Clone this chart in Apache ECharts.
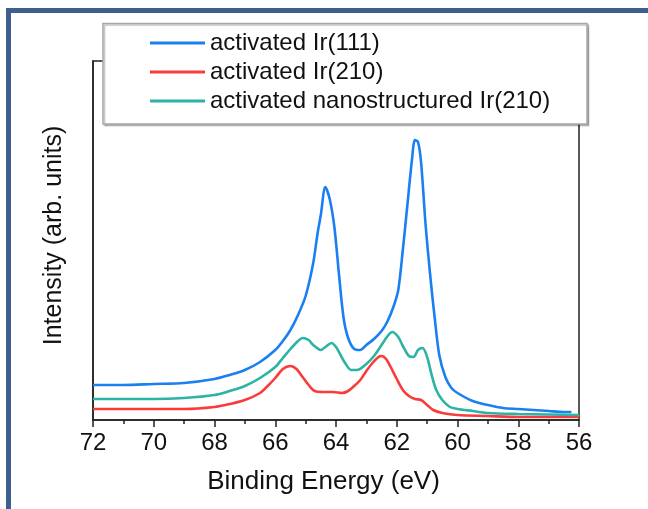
<!DOCTYPE html>
<html>
<head>
<meta charset="utf-8">
<script src="https://cdn.jsdelivr.net/npm/echarts@6/dist/echarts.min.js"></script>
<style>html,body{margin:0;padding:0;background:#fff}#chart{width:648px;height:509px}</style>
</head>
<body>
<div id="chart"></div>
<script>
// Binding energy (eV) and intensity (arb. units)
const seriesNames = ['activated Ir(111)', 'activated Ir(210)', 'activated nanostructured Ir(210)'];
const xTicks = [72, 70, 68, 66, 64, 62, 60, 58, 56];

const ir111Energy = [72,71,70,69,68,67.5,67,66.5,66,65.75,65.5,65.25,65,64.75,64.6,64.5,64.35,64.2,64.05,63.9,63.75,63.6,63.4,63.2,63,62.75,62.5,62.3,62.1,61.95,61.8,61.65,61.5,61.4,61.3,61.2,61.05,60.9,60.75,60.6,60.4,60.2,60,59.5,59,58.5,58,57.5,57,56.5,56.25];
const ir111Values = [35,35,36,37,41,45,50,58,70,79,90,105,124,157,188,205,233,220,192,145,102,82,71,70,75,81,89,99,114,130,170,215,260,280,278,258,195,145,102,65,43,32,27,19,15,12,11,10,9,8,8];

const ir210Energy = [72,71,70,69,68,67.5,67,66.5,66.25,66,65.75,65.5,65.3,65.1,64.9,64.7,64.4,64.1,63.8,63.6,63.4,63.2,63,62.8,62.6,62.5,62.35,62.2,62,61.8,61.6,61.4,61.2,61,60.8,60.5,60,59,58,57,56];
const ir210Values = [11,11,11,11,13,16,20,27,34,42,51,54,51,43,35,29,28,28,27,29,34,40,49,57,63,64,61,53,41,30,24,21,20,15,10,7,5,4,3,3,3];

const nanoEnergy = [72,71,70,69,68,67.5,67,66.5,66,65.75,65.5,65.25,65.1,64.9,64.75,64.5,64.35,64.15,64,63.85,63.7,63.5,63.3,63,62.75,62.5,62.3,62.15,61.95,61.8,61.6,61.45,61.3,61.15,61,60.85,60.7,60.5,60.25,60,59.5,59,58,57,56];
const nanoValues = [21,21,21,22,25,29,34,42,53,62,71,79,82,80,75,70,73,77,73,65,57,50,50,56,64,75,84,88,83,74,64,63,70,72,63,45,30,20,13,11,9,7,6,5.5,5];

function pairs(xs, ys) { return xs.map((x, i) => [x, ys[i]]); }

const FONT = "'Liberation Sans', Arial, sans-serif";
const colors = ['#1a80f2', '#fa3b3b', '#2bb3a3'];

const chart = echarts.init(document.getElementById('chart'), null, {renderer: 'canvas'});
chart.setOption({
  animation: false,
  backgroundColor: '#ffffff',
  color: colors,
  grid: {
    left: 93, right: 69, top: 61, bottom: 89,
    show: true, borderColor: '#222', borderWidth: 1.5, backgroundColor: 'transparent'
  },
  graphic: [
    { type: 'rect', z: 100, silent: true,
      shape: {x: 8.5, y: 10.5, width: 700, height: 600},
      style: {fill: 'none', stroke: '#3c5f8c', lineWidth: 5} },
    { type: 'rect', z: 50, silent: true,
      shape: {x: 103, y: 23.5, width: 484, height: 100.5},
      style: {fill: '#fff', stroke: '#a6a6a6', lineWidth: 1.5,
              shadowColor: 'rgba(0,0,0,0.25)', shadowOffsetX: 1.5, shadowOffsetY: 1.5, shadowBlur: 1} }
  ],
  legend: {
    z: 60,
    orient: 'vertical',
    left: 150, top: 31,
    padding: 0,
    itemGap: 5,
    itemWidth: 55, itemHeight: 3,
    icon: 'rect',
    data: seriesNames,
    textStyle: {fontFamily: FONT, fontSize: 24, color: '#111', lineHeight: 24}
  },
  xAxis: {
    type: 'value', inverse: true,
    min: 56, max: 72, interval: 2,
    name: 'Binding Energy (eV)', nameLocation: 'middle', nameGap: 49,
    nameTextStyle: {fontFamily: FONT, fontSize: 26, color: '#111', padding: [0, 25, 0, 0]},
    axisLine: {show: true, lineStyle: {color: '#222', width: 1.5}},
    axisTick: {show: true, inside: false, length: 7, lineStyle: {color: '#222', width: 1.5}},
    minorTick: {show: true, splitNumber: 2, length: 4, lineStyle: {color: '#222', width: 1.5}},
    splitLine: {show: false},
    axisLabel: {fontFamily: FONT, fontSize: 24, color: '#111', margin: 11,
                formatter: v => xTicks.includes(v) ? String(v) : ''}
  },
  yAxis: {
    type: 'value', min: 0, max: 359,
    name: 'Intensity (arb. units)', nameLocation: 'middle', nameGap: 26,
    nameTextStyle: {fontFamily: FONT, fontSize: 25, color: '#111', padding: [0, 0, 0, 10]},
    axisLine: {show: true, lineStyle: {color: '#222', width: 1.5}},
    axisTick: {show: false}, axisLabel: {show: false}, splitLine: {show: false}
  },
  series: [
    {name: seriesNames[0], type: 'line', data: pairs(ir111Energy, ir111Values), showSymbol: false, smooth: 0.3, lineStyle: {width: 2.6}, z: 3},
    {name: seriesNames[1], type: 'line', data: pairs(ir210Energy, ir210Values), showSymbol: false, smooth: 0.3, lineStyle: {width: 2.6}, z: 2},
    {name: seriesNames[2], type: 'line', data: pairs(nanoEnergy, nanoValues), showSymbol: false, smooth: 0.3, lineStyle: {width: 2.6}, z: 2}
  ]
});
</script>
</body>
</html>
